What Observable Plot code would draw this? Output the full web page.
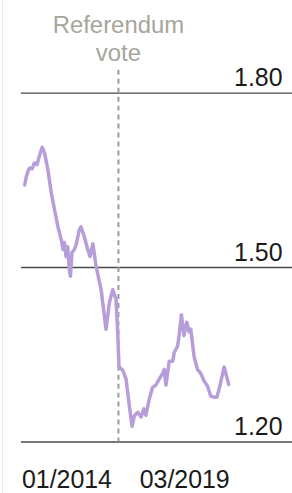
<!DOCTYPE html>
<html>
<head>
<meta charset="utf-8">
<script src="https://cdn.jsdelivr.net/npm/d3@7"></script>
<script src="https://cdn.jsdelivr.net/npm/@observablehq/plot@0.6"></script>
<style>
  html, body { margin: 0; padding: 0; background: #fff; }
  #chart { height: 493px; box-sizing: border-box; border-left: 1px solid #ececec; margin-left: 2px; width: 290px; }
  svg { display: block; }
</style>
</head>
<body>
<div id="chart"></div>
<script>
const dates = [
  "2014-02-14","2014-02-28","2014-03-15","2014-03-29","2014-04-23","2014-05-14","2014-06-06","2014-06-24",
  "2014-07-24","2014-08-15","2014-09-15","2014-10-15","2014-11-15","2014-12-16","2015-01-15","2015-01-31",
  "2015-02-14","2015-02-28","2015-03-15","2015-03-30","2015-04-09","2015-04-24","2015-05-15","2015-05-31",
  "2015-06-30","2015-07-15","2015-08-15","2015-09-15","2015-10-06","2015-11-01","2015-12-01","2016-01-16",
  "2016-03-01","2016-04-01","2016-05-02","2016-06-01","2016-06-16","2016-06-28","2016-08-02","2016-09-01",
  "2016-10-01","2016-10-26","2016-11-16","2016-12-17","2017-01-17","2017-02-11","2017-03-02","2017-04-02",
  "2017-05-02","2017-06-02","2017-07-02","2017-08-03","2017-08-17","2017-09-02","2017-10-02","2017-11-03",
  "2017-11-17","2017-12-18","2018-01-02","2018-01-22","2018-02-14","2018-03-12","2018-04-03","2018-04-18",
  "2018-05-18","2018-06-18","2018-07-18","2018-08-18","2018-09-19","2018-10-18","2018-11-18","2018-12-13",
  "2019-01-03","2019-02-04","2019-02-18","2019-03-19","2019-04-01"
];
const rates = [
  1.642,1.656,1.665,1.671,1.670,1.680,1.677,1.689,
  1.707,1.697,1.668,1.629,1.599,1.570,1.548,1.531,
  1.543,1.519,1.536,1.497,1.485,1.526,1.531,1.539,
  1.565,1.570,1.553,1.531,1.519,1.541,1.502,1.462,
  1.394,1.440,1.462,1.445,1.389,1.330,1.323,1.308,
  1.262,1.227,1.245,1.251,1.243,1.257,1.246,1.274,
  1.294,1.298,1.308,1.318,1.325,1.298,1.339,1.339,
  1.354,1.365,1.385,1.419,1.383,1.406,1.389,1.394,
  1.347,1.325,1.318,1.305,1.296,1.279,1.277,1.277,
  1.291,1.317,1.329,1.308,1.299
];
const yTicks = [1.20, 1.50, 1.80];
const xLabelStart = "01/2014";
const xLabelEnd = "03/2019";
const startDate = "2014-01-01";
const endDate = "2019-04-01";
const referendumDate = "2016-06-23";
const referendumLabel = "Referendum\nvote";

const series = dates.map((d, i) => ({date: new Date(d), rate: rates[i]}));

const font = "'Liberation Sans', Arial, Helvetica, sans-serif";

const chart = Plot.plot({
  width: 290,
  height: 493,
  marginTop: 70,
  marginBottom: 50,
  marginLeft: 18,
  marginRight: 0,
  style: {fontFamily: font, background: "#fff", overflow: "visible"},
  x: {type: "utc", domain: [new Date(startDate), new Date(endDate)], range: [16.5, 226], axis: null},
  y: {domain: [1.20, 1.80], range: [443, 93], axis: null},
  marks: [
    Plot.ruleY(yTicks, {stroke: "#4a4a4a", strokeWidth: 1.4}),
    Plot.ruleX([new Date(referendumDate)], {stroke: "#9b9b9b", strokeWidth: 2, strokeDasharray: "5,4"}),
    Plot.line(series, {x: "date", y: "rate", stroke: "#b79dd9", strokeWidth: 3.5, strokeLinejoin: "round", strokeLinecap: "round"}),
    Plot.text(yTicks, {y: d => d, text: d => d.toFixed(2), frameAnchor: "right", textAnchor: "end", lineAnchor: "bottom", dx: -10, dy: -7, fontSize: 25, fill: "#1a1a1a"}),
    Plot.text([referendumLabel], {x: () => new Date(referendumDate), text: d => d, frameAnchor: "top", lineAnchor: "bottom", dy: -9, fontSize: 24, fill: "#a6a69b", lineHeight: 1.2}),
    Plot.text([xLabelStart], {x: () => new Date(startDate), y: () => 1.20, text: d => d, textAnchor: "start", lineAnchor: "bottom", dx: 2, dy: 46, fontSize: 25, fill: "#1a1a1a"}),
    Plot.text([xLabelEnd], {x: () => new Date(endDate), y: () => 1.20, text: d => d, textAnchor: "end", lineAnchor: "bottom", dx: 1, dy: 46, fontSize: 25, fill: "#1a1a1a"})
  ]
});
document.getElementById("chart").appendChild(chart);
</script>
</body>
</html>
